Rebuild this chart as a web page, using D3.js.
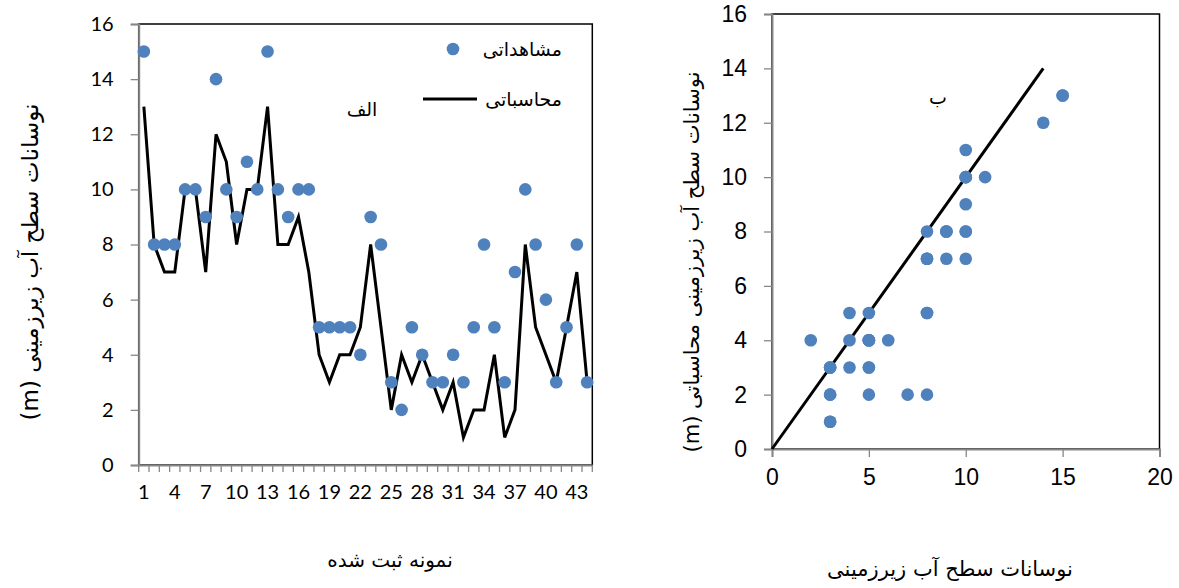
<!DOCTYPE html>
<html lang="fa">
<head>
<meta charset="UTF-8">
<title>نوسانات سطح آب زیرزمینی</title>
<script src="https://d3js.org/d3.v7.min.js"></script>
<style>
  body { margin: 0; background: #fff; }
  svg { display: block; }
  .fa { font-family: "DejaVu Sans", sans-serif; fill: #000; }
</style>
</head>
<body>
<svg width="1179" height="588"></svg>
<script>
// sample numbers 1..44
const samples = d3.range(1, 45);
// observed fluctuation (m)
const observed = [15, 8, 8, 8, 10, 10, 9, 14, 10, 9, 11, 10, 15, 10, 9, 10, 10, 5, 5, 5, 5, 4,
                  9, 8, 3, 2, 5, 4, 3, 3, 4, 3, 5, 8, 5, 3, 7, 10, 8, 6, 3, 5, 8, 3];
// calculated fluctuation (m)
const calculated = [13, 8, 7, 7, 10, 10, 7, 12, 11, 8, 10, 10, 13, 8, 8, 9, 7, 4, 3, 4, 4, 5,
                    8, 5, 2, 4, 3, 4, 3, 2, 3, 1, 2, 2, 4, 1, 2, 8, 5, 4, 3, 5, 7, 3];
const xTickLabels = d3.range(1, 45, 3);
const yTicks = [0, 2, 4, 6, 8, 10, 12, 14, 16];
const scatterXTicks = [0, 5, 10, 15, 20];
const refLine = [0, 14]; // 1:1 line

const svg = d3.select("svg");
const dotColor = "#4f81bd", axisColor = "#878787";
const pairs = samples.map((s, i) => ({ s, obs: observed[i], calc: calculated[i] }));

// ---------- left: time series ----------
const xL = d3.scaleBand().domain(samples).range([138.7, 592.3]);
const yL = d3.scaleLinear().domain([0, 16]).range([465, 24]);
const gL = svg.append("g");

gL.append("rect")
  .attr("x", xL.range()[0]).attr("y", yL(16))
  .attr("width", xL.range()[1] - xL.range()[0]).attr("height", yL(0) - yL(16))
  .attr("fill", "none").attr("stroke", "#000").attr("stroke-width", 1.5);

const yAxisL = gL.append("g").attr("transform", `translate(${xL.range()[0]},0)`)
  .call(d3.axisLeft(yL).tickValues(yTicks).tickSize(8).tickPadding(17));
const xAxisL = gL.append("g").attr("transform", `translate(0,${yL(0)})`)
  .call(d3.axisBottom(xL).tickValues(xTickLabels).tickSize(0).tickPadding(20));
// minor tick at every category boundary
xAxisL.selectAll(".bound").data(d3.range(samples.length + 1)).enter().append("line")
  .attr("x1", i => xL.range()[0] + i * xL.step()).attr("x2", i => xL.range()[0] + i * xL.step())
  .attr("y1", 0).attr("y2", 7).attr("stroke", axisColor).attr("stroke-width", 1.3);

[yAxisL, xAxisL].forEach(a => {
  a.select(".domain").attr("stroke", axisColor).attr("stroke-width", 2);
  a.selectAll(".tick line").attr("stroke", axisColor).attr("stroke-width", 1.3);
  a.selectAll("text").attr("font-family", "Lato, 'Open Sans', sans-serif").attr("font-size", 20).attr("fill", "#000");
});

const lineL = d3.line().x(d => xL(d.s) + xL.bandwidth() / 2).y(d => yL(d.calc));
gL.append("path").datum(pairs).attr("d", lineL)
  .attr("fill", "none").attr("stroke", "#000").attr("stroke-width", 3).attr("stroke-linejoin", "miter");

gL.selectAll(".obs").data(pairs).enter().append("circle")
  .attr("cx", d => xL(d.s) + xL.bandwidth() / 2).attr("cy", d => yL(d.obs))
  .attr("r", 6.3).attr("fill", dotColor);

// legend
gL.append("circle").attr("cx", 453).attr("cy", 49).attr("r", 6.3).attr("fill", dotColor);
gL.append("text").attr("class", "fa").attr("x", 562).attr("y", 56)
  .attr("text-anchor", "start").attr("direction", "rtl").attr("font-size", 19).text("مشاهداتی");
gL.append("line").attr("x1", 423).attr("x2", 477).attr("y1", 99).attr("y2", 99)
  .attr("stroke", "#000").attr("stroke-width", 3);
gL.append("text").attr("class", "fa").attr("x", 562).attr("y", 106)
  .attr("text-anchor", "start").attr("direction", "rtl").attr("font-size", 19).text("محاسباتی");
gL.append("text").attr("class", "fa").attr("x", 362).attr("y", 116)
  .attr("text-anchor", "middle").attr("direction", "rtl").attr("font-size", 19).text("الف");

gL.append("text").attr("class", "fa")
  .attr("transform", "translate(38,262) rotate(-90)")
  .attr("text-anchor", "middle").attr("direction", "rtl").attr("font-size", 23)
  .text("نوسانات سطح آب زیرزمینی (m)");
gL.append("text").attr("class", "fa").attr("x", 390).attr("y", 567)
  .attr("text-anchor", "middle").attr("direction", "rtl").attr("font-size", 20).text("نمونه ثبت شده");

// ---------- right: scatter ----------
const xR = d3.scaleLinear().domain([0, 20]).range([772, 1159.5]);
const yR = d3.scaleLinear().domain([0, 16]).range([449, 14]);
const gR = svg.append("g");

gR.append("rect")
  .attr("x", xR(0)).attr("y", yR(16))
  .attr("width", xR(20) - xR(0)).attr("height", yR(0) - yR(16))
  .attr("fill", "none").attr("stroke", "#000").attr("stroke-width", 1.5);

const yAxisR = gR.append("g").attr("transform", `translate(${xR(0)},0)`)
  .call(d3.axisLeft(yR).tickValues(yTicks).tickSize(8).tickPadding(17));
const xAxisR = gR.append("g").attr("transform", `translate(0,${yR(0)})`)
  .call(d3.axisBottom(xR).tickValues(scatterXTicks).tickSize(8).tickPadding(12));
[yAxisR, xAxisR].forEach(a => {
  a.select(".domain").attr("stroke", axisColor).attr("stroke-width", 2);
  a.selectAll(".tick line").attr("stroke", axisColor).attr("stroke-width", 1.3);
  a.selectAll("text").attr("font-family", "'Liberation Sans', Arial, sans-serif").attr("font-size", 23).attr("fill", "#000");
});

gR.append("line")
  .attr("x1", xR(refLine[0])).attr("y1", yR(refLine[0]))
  .attr("x2", xR(refLine[1])).attr("y2", yR(refLine[1]))
  .attr("stroke", "#000").attr("stroke-width", 3);

gR.selectAll(".pt").data(pairs).enter().append("circle")
  .attr("cx", d => xR(d.obs)).attr("cy", d => yR(d.calc))
  .attr("r", 6.3).attr("fill", dotColor);

gR.append("text").attr("class", "fa").attr("x", 938).attr("y", 104)
  .attr("text-anchor", "middle").attr("direction", "rtl").attr("font-size", 19).text("ب");

gR.append("text").attr("class", "fa")
  .attr("transform", "translate(699,262) rotate(-90)")
  .attr("text-anchor", "middle").attr("direction", "rtl").attr("font-size", 21)
  .text("نوسانات سطح آب زیرزمینی محاسباتی (m)");
gR.append("text").attr("class", "fa").attr("x", 950).attr("y", 576)
  .attr("text-anchor", "middle").attr("direction", "rtl").attr("font-size", 21).text("نوسانات سطح آب زیرزمینی");
</script>
</body>
</html>
